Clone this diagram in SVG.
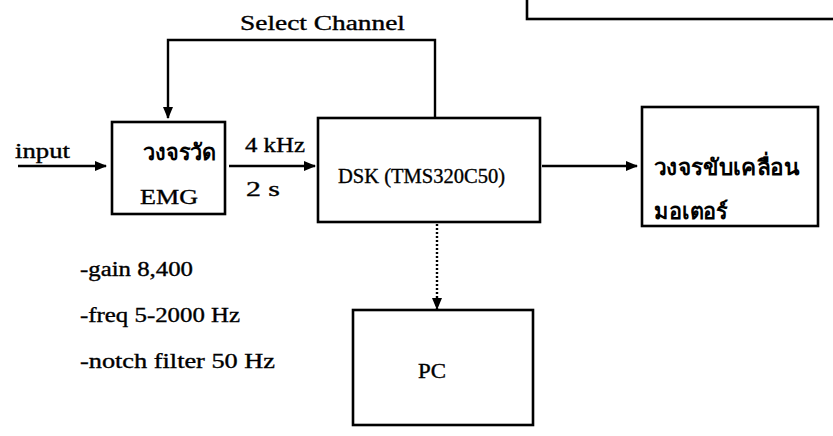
<svg xmlns="http://www.w3.org/2000/svg" width="833" height="436" viewBox="0 0 833 436">
<style>
  .box { fill: #fff; stroke: #000; stroke-width: 2.6; }
  .t { font-family: "Liberation Serif", "DejaVu Serif", "Noto Sans", serif; font-size: 20px; fill: #000; stroke: #000; stroke-width: 0.35; }
  .th { font-family: "Noto Sans", "DejaVu Sans", "Liberation Sans", sans-serif; font-size: 22px; fill: #000; font-weight: bold; }
  .c { fill: none; stroke: #000; stroke-width: 2.4; }
  .d { fill: none; stroke: #000; stroke-width: 2.4; stroke-dasharray: 2 2; }
</style>
<defs>
  <marker id="ah" markerWidth="14" markerHeight="12" refX="11" refY="6" orient="auto" markerUnits="userSpaceOnUse">
    <path d="M0,1 L12,6 L0,11 Z" fill="#000"/>
  </marker>
</defs>
<rect width="833" height="436" fill="#fff"/>
<g id="partial-box">
  <rect class="box" x="527" y="-10" width="320" height="29"/>
</g>
<g id="emg">
  <rect class="box" x="112" y="122" width="113" height="92"/>
  <text class="th" x="143" y="160" textLength="73" lengthAdjust="spacingAndGlyphs">วงจรวัด</text>
  <text class="t" x="140" y="204" textLength="58" lengthAdjust="spacingAndGlyphs">EMG</text>
</g>
<g id="dsk">
  <rect class="box" x="318" y="118" width="222" height="104"/>
  <text class="t" x="338" y="183" textLength="167" lengthAdjust="spacingAndGlyphs">DSK (TMS320C50)</text>
</g>
<g id="motor">
  <rect class="box" x="642" y="107" width="176" height="119"/>
  <text class="th" x="654" y="175" textLength="145" lengthAdjust="spacingAndGlyphs">วงจรขับเคลื่อน</text>
  <text class="th" x="654" y="219" textLength="74" lengthAdjust="spacingAndGlyphs">มอเตอร์</text>
</g>
<g id="pc">
  <rect class="box" x="353" y="310" width="180" height="115"/>
  <text class="t" x="418" y="378" textLength="28" lengthAdjust="spacingAndGlyphs">PC</text>
</g>
<g id="notes">
  <text class="t" x="80" y="276" textLength="113" lengthAdjust="spacingAndGlyphs">-gain 8,400</text>
  <text class="t" x="80" y="322" textLength="160" lengthAdjust="spacingAndGlyphs">-freq 5-2000 Hz</text>
  <text class="t" x="80" y="368" textLength="195" lengthAdjust="spacingAndGlyphs">-notch filter 50 Hz</text>
</g>
<g id="connectors">
  <text class="t" x="240" y="30" textLength="165" lengthAdjust="spacingAndGlyphs">Select  Channel</text>
  <text class="t" x="15" y="158" textLength="55" lengthAdjust="spacingAndGlyphs">input</text>
  <text class="t" x="245" y="152" textLength="60" lengthAdjust="spacingAndGlyphs">4 kHz</text>
  <text class="t" x="246" y="196" textLength="34" lengthAdjust="spacingAndGlyphs">2 s</text>
  <line class="c" x1="18" y1="166" x2="106" y2="166" marker-end="url(#ah)"/>
  <line class="c" x1="229" y1="166" x2="315" y2="166" marker-end="url(#ah)"/>
  <line class="c" x1="542" y1="166" x2="637" y2="166" marker-end="url(#ah)"/>
  <polyline class="c" points="435,118 435,40 168,40 168,118" marker-end="url(#ah)"/>
  <line class="d" x1="437" y1="224" x2="437" y2="309" marker-end="url(#ah)"/>
</g>
</svg>
